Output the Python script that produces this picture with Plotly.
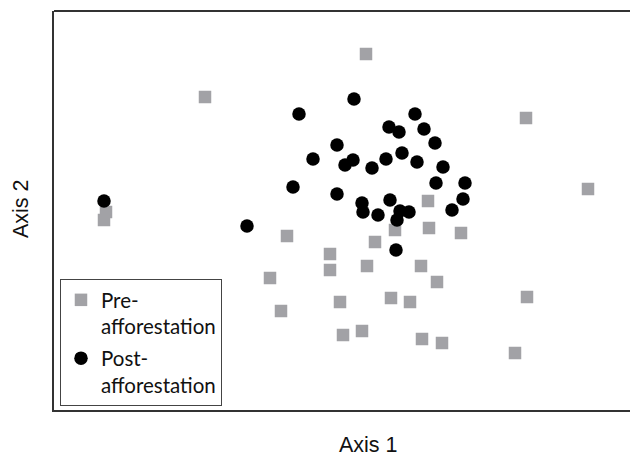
import plotly.graph_objects as go

# NMDS-style scores
pre_x = [-1.35, 0.26, 1.86, 2.48, 0.88, -2.34, -2.36, 0.55, 0.89, 1.21, -0.53, 0.35,
         -0.10, -0.10, 0.27, 0.81, -0.70, 0.97, 0.00, 0.51, 0.70, 1.87, -0.59, 0.03,
         0.22, 0.82, 1.02, 1.75]
pre_y = [1.33, 1.76, 1.12, 0.41, 0.29, 0.18, 0.10, 0.00, 0.02, -0.03, -0.06, -0.12,
         -0.24, -0.40, -0.36, -0.36, -0.48, -0.52, -0.72, -0.68, -0.72, -0.67, -0.81, -1.05,
         -1.01, -1.09, -1.13, -1.23]

post_x = [-2.36, -0.93, -0.41, 0.14, -0.27, -0.47, -0.03, 0.05, 0.13, -0.03, 0.75, 0.49,
          0.59, 0.84, 0.95, 0.62, 0.46, 0.32, 0.77, 1.03, 0.96, 1.25, 1.23, 0.22,
          0.50, 0.23, 0.38, 0.60, 0.69, 1.12, 0.57, 0.56]
post_y = [0.29, 0.04, 1.16, 1.31, 0.71, 0.43, 0.85, 0.65, 0.70, 0.36, 1.16, 1.03,
          0.98, 1.01, 0.87, 0.77, 0.71, 0.62, 0.68, 0.63, 0.47, 0.47, 0.31, 0.27,
          0.30, 0.18, 0.15, 0.19, 0.18, 0.20, 0.10, -0.20]

series_names = ["Pre-<br>afforestation", "Post-<br>afforestation"]
x_title = "Axis 1"
y_title = "Axis 2"

fig = go.Figure()
fig.add_trace(go.Scatter(
    x=pre_x, y=pre_y, mode="markers", name=series_names[0], legendgroup="pre",
    marker=dict(symbol="square", size=12.5, color="#a2a2a6", line=dict(width=0)),
))
fig.add_trace(go.Scatter(
    x=post_x, y=post_y, mode="markers", name=series_names[1], legendgroup="post",
    marker=dict(symbol="circle", size=13.5, color="#000000", line=dict(width=0)),
))

axis_common = dict(showgrid=False, zeroline=False, showticklabels=False, ticks="",
                   showline=True, linecolor="#333333", linewidth=2)
fig.update_layout(
    width=630, height=458,
    margin=dict(l=54, r=0, t=11, b=48),
    paper_bgcolor="white", plot_bgcolor="white",
    xaxis=dict(range=[-2.86, 2.90], **axis_common),
    yaxis=dict(range=[-1.80, 2.19], **axis_common),
    showlegend=True,
    legend=dict(
        x=0.0104, y=0.01, xanchor="left", yanchor="bottom",
        bgcolor="white", bordercolor="#444444", borderwidth=1,
        font=dict(family="Lato", size=20.5, color="#111111"),
        valign="top", itemwidth=30, tracegroupgap=2,
    ),
    shapes=[dict(type="line", xref="paper", yref="paper", x0=0, x1=1, y0=1, y1=1,
                 line=dict(color="#333333", width=2))],
    annotations=[
        dict(text=x_title, xref="paper", yref="paper", x=0.546, y=-0.088,
             xanchor="center", yanchor="middle", showarrow=False,
             font=dict(family="Liberation Sans", size=21.5, color="#111111")),
        dict(text=y_title, xref="paper", yref="paper", x=-0.0573, y=0.506,
             xanchor="center", yanchor="middle", showarrow=False, textangle=-90,
             font=dict(family="Liberation Sans", size=21.5, color="#111111")),
    ],
)

fig.write_html("out.html", config={"displayModeBar": False},
               post_script="document.body.style.margin='0';document.body.style.overflow='hidden';")
